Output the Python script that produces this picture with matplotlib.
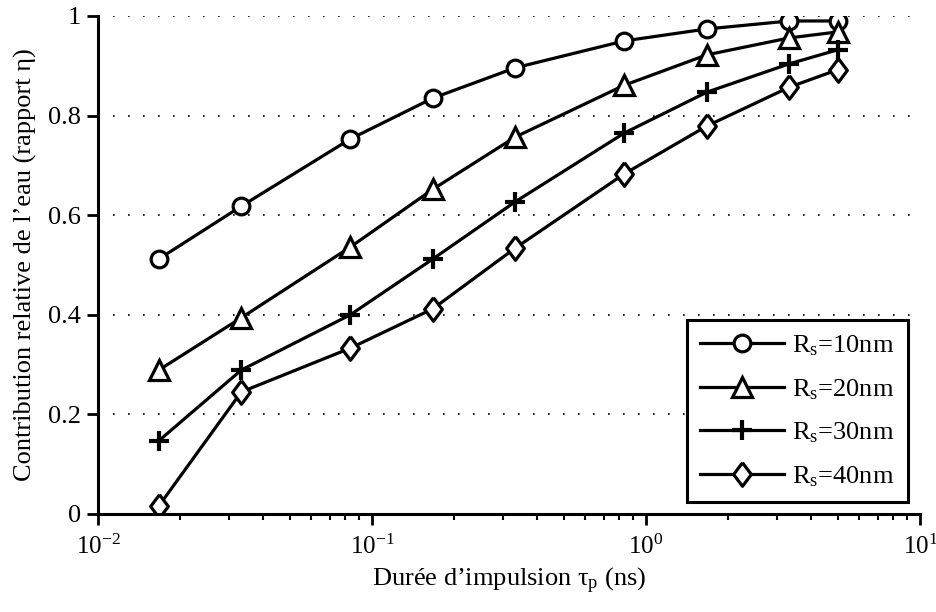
import matplotlib
matplotlib.use("Agg")
import matplotlib.pyplot as plt
import matplotlib.transforms as mtransforms
import numpy as np

plt.rcParams['font.family'] = ['Liberation Serif', 'DejaVu Serif']
plt.rcParams['mathtext.fontset'] = 'custom'
plt.rcParams['mathtext.rm'] = 'Liberation Serif'
plt.rcParams['mathtext.it'] = 'Liberation Serif:italic'
plt.rcParams['mathtext.bf'] = 'Liberation Serif:bold'

# Data
tau_p = [1/60, 1/30, 1/12, 1/6, 1/3, 5/6, 5/3, 10/3, 5]
rs10 = [0.512, 0.618, 0.753, 0.835, 0.896, 0.950, 0.974, 0.990, 0.990]
rs20 = [0.289, 0.394, 0.536, 0.652, 0.757, 0.861, 0.922, 0.956, 0.968]
rs30 = [0.147, 0.289, 0.400, 0.512, 0.627, 0.765, 0.847, 0.904, 0.932]
rs40 = [0.016, 0.245, 0.333, 0.412, 0.534, 0.683, 0.779, 0.857, 0.892]
labels = [r'$\mathrm{R_s}$=10nm', r'$\mathrm{R_s}$=20nm',
          r'$\mathrm{R_s}$=30nm', r'$\mathrm{R_s}$=40nm']
yticks = [0, 0.2, 0.4, 0.6, 0.8, 1]
yticklabels = ['0', '0.2', '0.4', '0.6', '0.8', '1']

diamond = [(0, 1), (0.75, 0), (0, -1), (-0.75, 0), (0, 1)]

fig = plt.figure(figsize=(9.36, 6.12), dpi=100)
ax = fig.add_axes([98/936, 1-514/612, (920-98)/936, (514-16)/612])

lw = 2.3
ax.plot(tau_p, rs10, '-', color='k', lw=lw, marker='o', ms=12, mfc='white', mec='k', mew=2.3, label=labels[0])
ax.plot(tau_p, rs20, '-', color='k', lw=lw, marker='^', ms=14, mfc='white', mec='k', mew=2.3, label=labels[1])
ax.plot(tau_p, rs30, '-', color='k', lw=lw, marker='+', ms=14, mec='k', mew=3, label=labels[2])
ax.plot(tau_p, rs40, '-', color='k', lw=lw, marker=diamond, ms=17, mfc='white', mec='k', mew=2.3, label=labels[3])

ax.set_xscale('log')
ax.set_xlim(1e-2, 1e1)
ax.set_ylim(0, 1)
ax.set_yticks(yticks)
ax.set_yticklabels(yticklabels)

for y in yticks[1:]:
    ax.axhline(y, color='k', lw=1.2, ls=(0, (1, 8)), zorder=0)

for s in ['top', 'right']:
    ax.spines[s].set_visible(False)
for s in ['left', 'bottom']:
    ax.spines[s].set_linewidth(2.2)

ax.tick_params(axis='both', which='major', direction='out', length=8, width=2, labelsize=19, pad=4)
ax.tick_params(axis='x', which='minor', direction='out', length=4, width=1.5)
ax.tick_params(axis='x', which='major', pad=7, labelsize=18)

ax.set_xlabel('Durée d’impulsion $\\mathrm{τ_p}$ (ns)', fontsize=19, labelpad=5)
ax.set_ylabel('Contribution relative de l’eau (rapport η)', fontsize=19, labelpad=8)

leg = ax.legend(loc='lower right', bbox_to_anchor=(0.985, 0.024), fontsize=19,
                frameon=True, fancybox=False, edgecolor='k', handlelength=3.2,
                borderpad=0.5, labelspacing=0.72, handletextpad=0.3, borderaxespad=0)
leg.get_frame().set_linewidth(2.2)
leg.get_frame().set_alpha(1)

# keep the last x tick label inside the figure
fig.canvas.draw()
xt = ax.get_xticklabels()
if xt:
    last = [t for t in xt if t.get_visible()][-1]
    last.set_transform(last.get_transform() + mtransforms.ScaledTranslation(-6/100, 0, fig.dpi_scale_trans))

fig.savefig('out.png', dpi=100)
